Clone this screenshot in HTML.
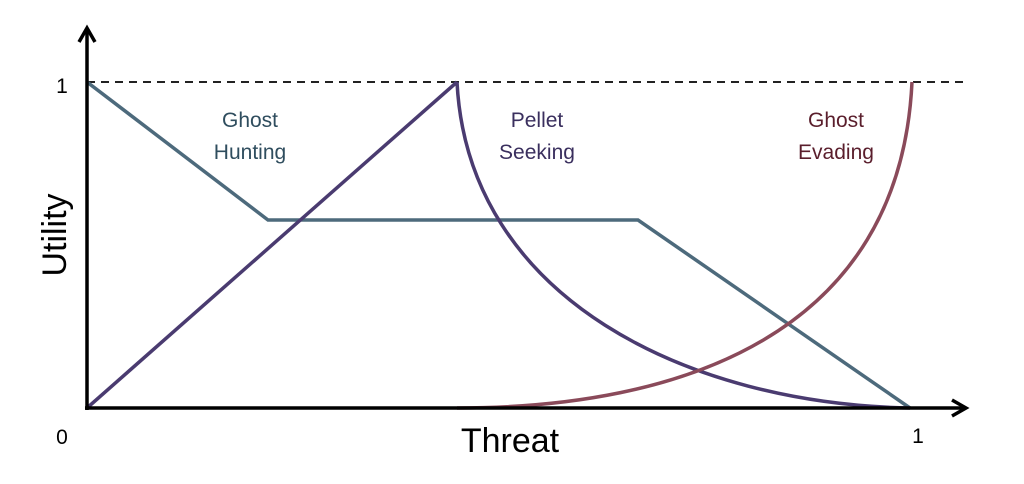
<!DOCTYPE html>
<html><head><meta charset="utf-8"><style>
html,body{margin:0;padding:0;background:#fff;width:1024px;height:484px;overflow:hidden}
text{font-family:"Liberation Sans",sans-serif}
</style></head><body>
<svg width="1024" height="484" viewBox="0 0 1024 484" xmlns="http://www.w3.org/2000/svg">
<defs>
<marker id="ah2" markerWidth="20" markerHeight="20" refX="16" refY="10" orient="auto" markerUnits="userSpaceOnUse"><path d="M2,2 L16,10 L2,18" fill="none" stroke="#000" stroke-width="3.5"/></marker></defs>
<line x1="87" y1="82" x2="965" y2="82" stroke="#222" stroke-width="2" stroke-dasharray="8,6"/>
<polyline points="87,82 268,220 638,220 910,408" fill="none" stroke="#4d6a7c" stroke-width="3.5"/>
<line x1="87" y1="408" x2="457" y2="82" stroke="#4a3b70" stroke-width="3.5"/>
<path d="M457,82 C468,300 690,404 910,408" fill="none" stroke="#4a3b70" stroke-width="3.5"/>
<path d="M457,408 C680,408 900,335 912,82" fill="none" stroke="#8a4a5a" stroke-width="3.5"/>
<line x1="87" y1="410" x2="87" y2="28" stroke="#000" stroke-width="3.5" marker-end="url(#ah2)"/>
<line x1="85" y1="408" x2="966" y2="408" stroke="#000" stroke-width="3.5" marker-end="url(#ah2)"/>
<text x="62" y="93" font-size="21" text-anchor="middle">1</text>
<text x="62" y="444" font-size="21" text-anchor="middle">0</text>
<text x="918" y="443" font-size="21" text-anchor="middle">1</text>
<text x="510" y="452" font-size="34" text-anchor="middle">Threat</text>
<text transform="translate(66,235) rotate(-90)" font-size="34" text-anchor="middle">Utility</text>
<g font-size="21" text-anchor="middle">
<text x="250" y="127" fill="#2f4d5e">Ghost</text><text x="250" y="159" fill="#2f4d5e">Hunting</text>
<text x="537" y="127" fill="#3a2f5e">Pellet</text><text x="537" y="159" fill="#3a2f5e">Seeking</text>
<text x="836" y="127" fill="#5a1e2c">Ghost</text><text x="836" y="159" fill="#5a1e2c">Evading</text>
</g>
</svg>
</body></html>
